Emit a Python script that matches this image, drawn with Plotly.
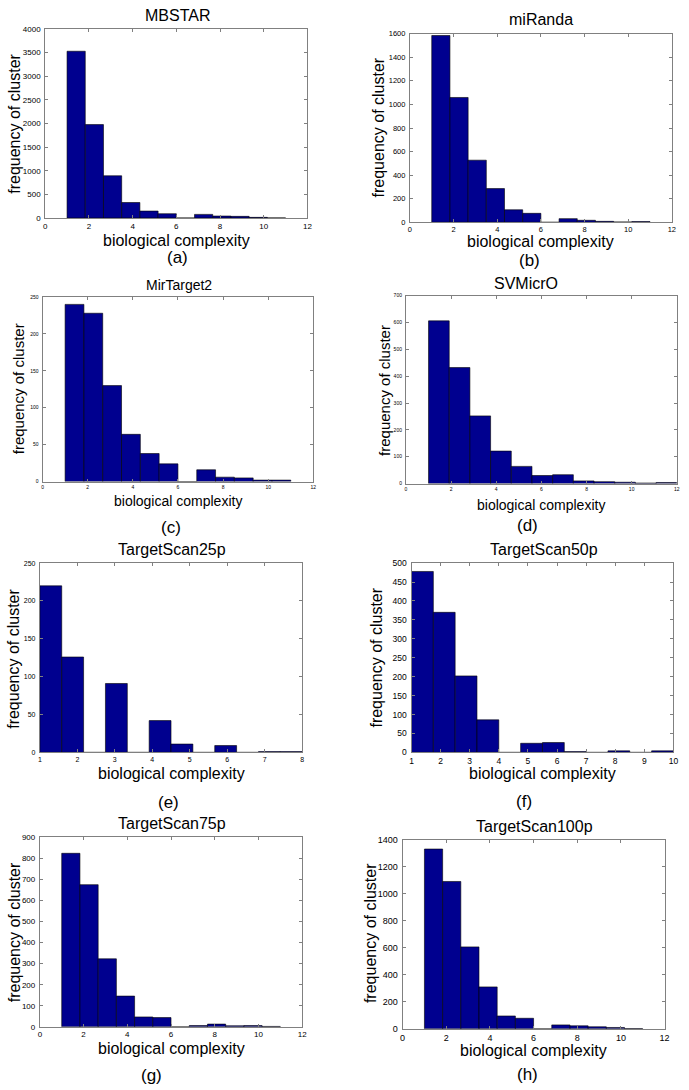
import plotly.graph_objects as go

W, H = 689, 1090
FONT = "Liberation Sans, Arial, Helvetica, sans-serif"

titles = ["MBSTAR", "miRanda", "MirTarget2", "SVMicrO",
          "TargetScan25p", "TargetScan50p", "TargetScan75p", "TargetScan100p"]
sublabels = ["(a)", "(b)", "(c)", "(d)", "(e)", "(f)", "(g)", "(h)"]
x_title = "biological complexity"
y_title = "frequency of cluster"

# histogram counts (12 bins each)
mbstar_counts = [3525, 1975, 893, 328, 147, 91, 0, 77, 42, 35, 14, 3]
miranda_counts = [1585, 1059, 527, 286, 106, 76, 0, 31, 17, 8, 3, 6]
mirtarget2_counts = [240, 228, 130, 64, 38, 24, 0, 16, 6, 5, 2, 2]
svmicro_counts = [606, 432, 252, 121, 64, 30, 33, 10, 7, 5, 2, 4]
ts25_counts = [220, 126, 0, 91, 0, 42, 11, 0, 9, 0, 1, 1]
ts50_counts = [478, 370, 202, 86, 0, 24, 26, 2, 0, 4, 0, 4]
ts75_counts = [824, 675, 323, 146, 47, 44, 0, 6, 13, 5, 6, 2]
ts100_counts = [1330, 1090, 606, 310, 95, 78, 0, 29, 22, 15, 10, 2]

all_counts = [mbstar_counts, miranda_counts, mirtarget2_counts, svmicro_counts,
              ts25_counts, ts50_counts, ts75_counts, ts100_counts]

# data range covered by the 12 bins of each histogram
bin_lo = [1, 1, 1, 1, 1, 1, 1, 1]
bin_hi = [11, 11, 11, 12, 8, 10, 11, 11]

# axis settings
x_min = [0, 0, 0, 0, 1, 1, 0, 0]
x_max = [12, 12, 12, 12, 8, 10, 12, 12]
x_step = [2, 2, 2, 2, 1, 1, 2, 2]
y_max = [4000, 1600, 250, 700, 250, 500, 900, 1400]
y_step = [500, 200, 50, 100, 50, 50, 100, 200]

# ---- layout (pixels) ----
plot_boxes = [  # x0, x1, y_top, y_bottom
    (42.7, 308, 24, 215),
    (411.7, 676.7, 29, 219.3),
    (40, 314, 294.7, 481),
    (407.7, 681.7, 293.3, 483),
    (37.3, 302.7, 563.3, 754.3),
    (413.3, 678.3, 563.3, 754.3),
    (37.3, 302.7, 840, 1031.3),
    (404.3, 669.3, 842.3, 1033.3),
]
title_pos = [(177, 10.5), (544, 15), (178, 282.5), (529, 281),
             (171, 549.5), (547, 549.5), (171, 826), (538, 829.5)]
title_size = [16, 16, 14, 16, 16, 16, 16, 16]
xlab_pos = [(176, 237.5), (544, 239), (177, 501), (544, 505),
            (170, 775.5), (546, 775.5), (170, 1053), (537, 1055)]
xlab_size = [16, 16, 14, 14, 16, 16, 16, 16]
ylab_pos = [(12, 120), (380, 124), (16, 387), (386, 389),
            (11, 660), (378, 659), (12, 936), (372, 937)]
ylab_size = [16, 16, 15, 15, 16, 16, 16, 16]
tick_size = [8, 7.5, 5, 5, 7, 8.5, 8, 9]
sub_pos = [(177, 255), (533, 257.5), (170, 527), (531, 525),
           (167, 805), (527, 804), (150, 1080), (531, 1079.5)]

BAR = "#00008F"
AX = "#808080"

fig = go.Figure()
annotations = []
layout = dict(width=W, height=H, margin=dict(l=0, r=0, t=0, b=0),
              paper_bgcolor="white", plot_bgcolor="white",
              showlegend=False, font=dict(family=FONT, color="black"))

def px(x):
    return x / W

def py(y):
    return 1 - y / H

for i in range(8):
    n = len(all_counts[i])
    w = (bin_hi[i] - bin_lo[i]) / n
    centers = [bin_lo[i] + w * (k + 0.5) for k in range(n)]
    xa = "x" if i == 0 else f"x{i+1}"
    ya = "y" if i == 0 else f"y{i+1}"
    fig.add_trace(go.Bar(x=centers, y=all_counts[i], width=w,
                         marker=dict(color=BAR, line=dict(color="black", width=0.6)),
                         xaxis=xa, yaxis=ya, hoverinfo="x+y"))
    x0, x1, yt, yb = plot_boxes[i]
    axcommon = dict(showgrid=False, zeroline=False, showline=True, linecolor=AX,
                    linewidth=1, mirror="allticks", ticks="inside", ticklen=3,
                    tickcolor=AX, tickwidth=1,
                    tickfont=dict(size=tick_size[i], family=FONT, color="black"))
    layout["xaxis" if i == 0 else f"xaxis{i+1}"] = dict(
        domain=[px(x0), px(x1)], range=[x_min[i], x_max[i]],
        tick0=x_min[i], dtick=x_step[i], anchor=ya, **axcommon)
    layout["yaxis" if i == 0 else f"yaxis{i+1}"] = dict(
        domain=[py(yb), py(yt)], range=[0, y_max[i]],
        tick0=0, dtick=y_step[i], anchor=xa, ticklabelstandoff=2, **axcommon)

    tx, ty = title_pos[i]
    annotations.append(dict(text=titles[i], x=px(tx), y=py(ty), xref="paper", yref="paper",
                            xanchor="center", yanchor="middle", showarrow=False,
                            font=dict(size=title_size[i], family=FONT)))
    lx, ly = xlab_pos[i]
    annotations.append(dict(text=x_title, x=px(lx), y=py(ly), xref="paper", yref="paper",
                            xanchor="center", yanchor="middle", showarrow=False,
                            font=dict(size=xlab_size[i], family=FONT)))
    vx, vy = ylab_pos[i]
    annotations.append(dict(text=y_title, x=px(vx), y=py(vy), xref="paper", yref="paper",
                            xanchor="center", yanchor="middle", showarrow=False,
                            textangle=-90, font=dict(size=ylab_size[i], family=FONT)))
    sx, sy = sub_pos[i]
    annotations.append(dict(text=sublabels[i], x=px(sx), y=py(sy), xref="paper", yref="paper",
                            xanchor="center", yanchor="middle", showarrow=False,
                            font=dict(size=17, family=FONT)))

layout["annotations"] = annotations
fig.update_layout(**layout)
fig.write_html("out.html", config={"displayModeBar": False},
               post_script="document.body.style.margin='0';document.body.style.padding='0';")
